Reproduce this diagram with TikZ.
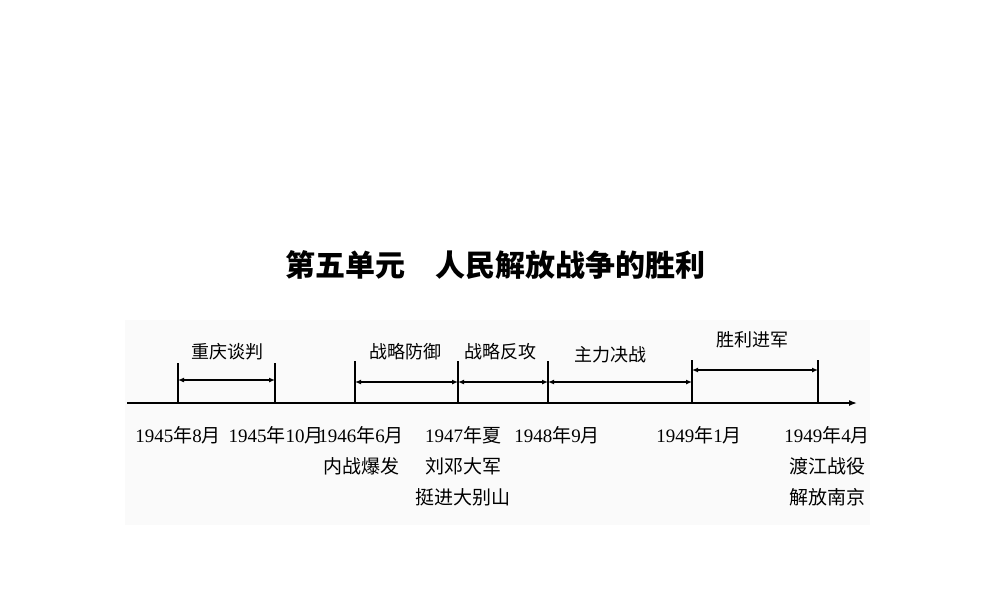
\documentclass[tikz,border=0pt]{standalone}
\usepackage{fontspec}
\setmainfont{Liberation Serif}
\newfontfamily\cjk{Noto Sans CJK SC}
\usetikzlibrary{arrows.meta}
\begin{document}
\begin{tikzpicture}[x=1pt,y=-1pt,
  tick/.style={line width=1.2pt},
  span/.style={line width=1.3pt,{Latex[length=6pt,width=5pt]}-{Latex[length=6pt,width=5pt]}},
  lab/.style={font=\fontsize{18}{20}\selectfont\cjk},
  date/.style={font=\fontsize{19}{31}\selectfont,align=center,inner sep=0pt}]
\useasboundingbox (0,0) rectangle (1000,600);
\fill[gray!4] (125,320) rectangle (870,525);
\node[font=\fontsize{30}{34}\selectfont\cjk\bfseries] (title) at (495,265) {第五单元\quad 人民解放战争的胜利};
\coordinate (s) at (127,403);
\coordinate (e) at (857,403);
\draw[line width=1.5pt,-{Latex[length=8pt,width=6pt]}] (s) -- (e);
\foreach \n/\x/\t in {a/178/363,b/275/363,c/355/361,d/458/361,f/548/361,g/692/360,h/818/360}{
  \coordinate (\n) at (\x,403);
  \coordinate (\n t) at (\x,\t);
  \draw[tick] (\n) -- (\n t);
}
\coordinate (a1) at (178,380); \coordinate (b1) at (275,380);
\draw[span] (a1) -- (b1);
\coordinate (c1) at (355,382); \coordinate (d1) at (458,382);
\coordinate (f1) at (548,382); \coordinate (g1) at (692,382);
\draw[span] (c1) -- (d1);
\draw[span] (d1) -- (f1);
\draw[span] (f1) -- (g1);
\coordinate (g2) at (692,370); \coordinate (h2) at (818,370);
\draw[span] (g2) -- (h2);
\node[lab] (l1) at (227,352) {重庆谈判};
\node[lab] (l2) at (405,352) {战略防御};
\node[lab] (l3) at (500,352) {战略反攻};
\node[lab] (l4) at (610,355) {主力决战};
\node[lab] (l5) at (752,340) {胜利进军};
\node[date,anchor=north] (t1) at (178,426) {1945{\cjk 年}8{\cjk 月}};
\node[date,anchor=north] (t2) at (276,426) {1945{\cjk 年}10{\cjk 月}};
\node[date,anchor=north] (t3) at (361,426) {1946{\cjk 年}6{\cjk 月}\\{\cjk 内战爆发}};
\node[date,anchor=north] (t4) at (463,426) {1947{\cjk 年夏}\\{\cjk 刘邓大军}\\{\cjk 挺进大别山}};
\node[date,anchor=north] (t5) at (557,426) {1948{\cjk 年}9{\cjk 月}};
\node[date,anchor=north] (t6) at (699,426) {1949{\cjk 年}1{\cjk 月}};
\node[date,anchor=north] (t7) at (827,426) {1949{\cjk 年}4{\cjk 月}\\{\cjk 渡江战役}\\{\cjk 解放南京}};
\end{tikzpicture}
\end{document}
